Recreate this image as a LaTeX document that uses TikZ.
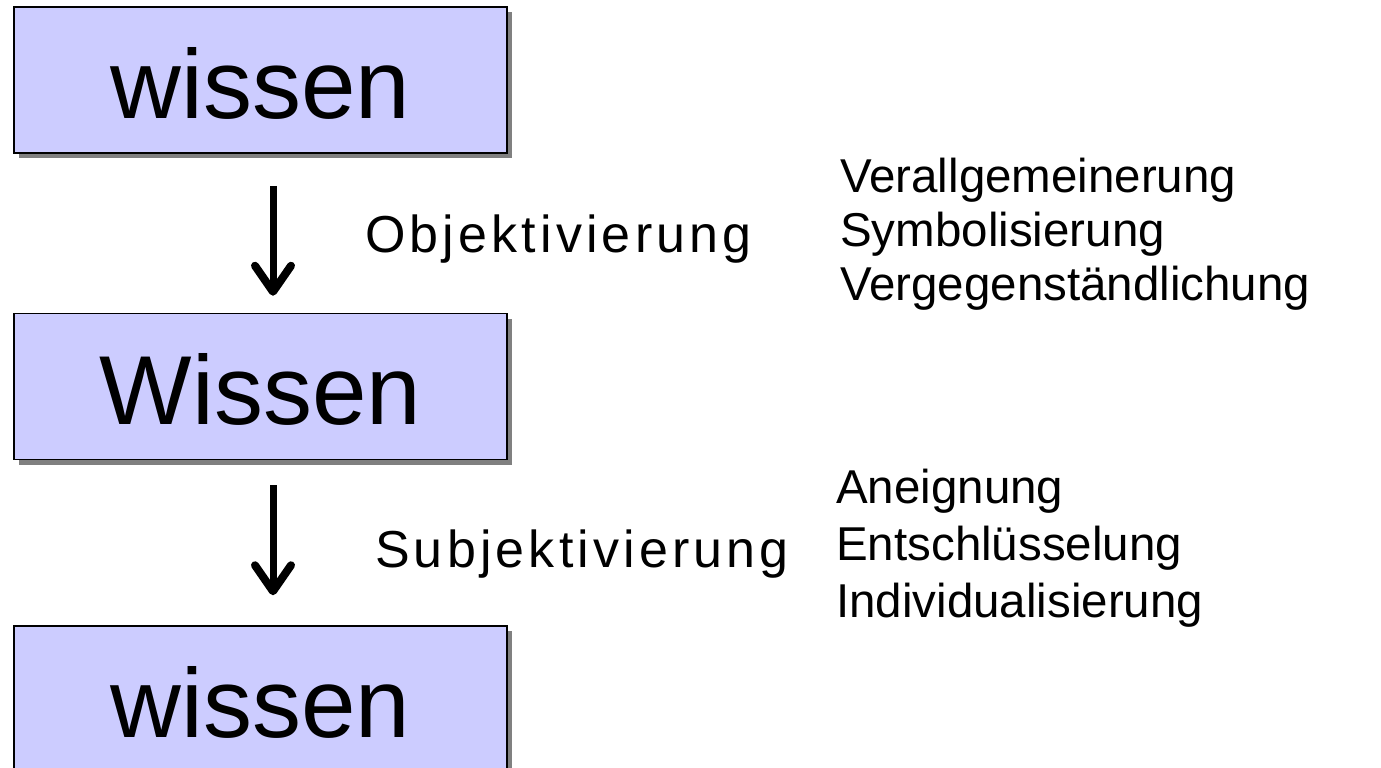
\documentclass[tikz,border=0pt]{standalone}
\usepackage{fontspec}
\setmainfont{Liberation Sans}
\newfontfamily\spacedfont[LetterSpace=8]{Liberation Sans}
\usetikzlibrary{shadows}
\usetikzlibrary{arrows.meta}
\usetikzlibrary{positioning}
\definecolor{boxblue}{RGB}{204,204,255}

\begin{document}
\begin{tikzpicture}[x=1pt,y=-1pt,
	wbox/.style={draw=black,line width=1.5pt,fill=boxblue,minimum width=493pt,minimum height=146pt,
		inner sep=0pt,text height=76pt,text depth=0pt,font=\fontsize{98}{110}\selectfont,
		drop shadow={shadow xshift=5pt,shadow yshift=-5pt,fill=black!50,opacity=1}},
	pfeil/.style={line width=7pt,-{Straight Barb[length=26pt,width=36pt,line width=8pt,round]}},
	lbl/.style={inner sep=0pt,anchor=base west,font=\spacedfont\fontsize{52}{60}\selectfont},
	liste/.style={inner sep=0pt,anchor=base west,align=left}]
\useasboundingbox (0,0) rectangle (1381,768);

%boxes
\node[wbox] (top) at (260.5,80) {wissen};
\node[wbox,below=159pt of top] (mid) {Wissen};
\node[wbox,below=165pt of mid] (bot) {wissen};

%arrows
\draw[pfeil,shorten <=32pt,shorten >=17pt] ([xshift=12.5pt]top.south) -- ([xshift=12.5pt]mid.north);
\draw[pfeil,shorten <=25pt,shorten >=30pt] ([xshift=12.5pt]mid.south) -- ([xshift=12.5pt]bot.north);

%labels (base = last line)
\node[lbl] (obj) at (365,252) {Objektivierung};
\node[lbl] (subj) at (375,567) {Subjektivierung};
\node[liste,font=\fontsize{47.5}{54}\selectfont] (ver) at (840,300) {Verallgemeinerung\\Symbolisierung\\Vergegenständlichung};
\node[liste,font=\fontsize{47.5}{57}\selectfont] (an) at (836,617) {Aneignung\\Entschlüsselung\\Individualisierung};
\end{tikzpicture}
\end{document}
